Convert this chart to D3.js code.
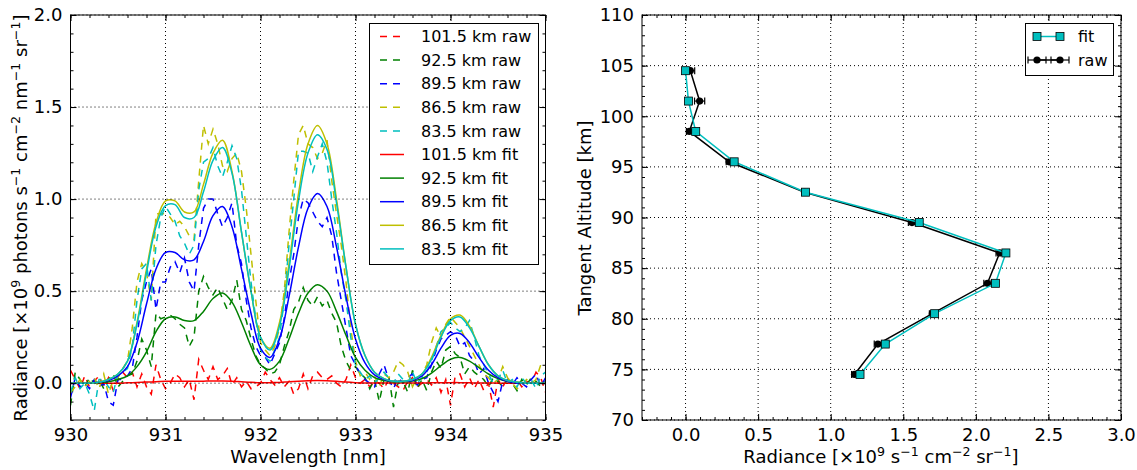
<!DOCTYPE html>
<html><head><meta charset="utf-8">
<script src="https://cdn.jsdelivr.net/npm/d3@7"></script>
<style>body{margin:0;background:#fff} text{font-family:"DejaVu Sans",sans-serif;fill:#000}</style>
</head><body><svg id="c" width="1137" height="470"></svg>
<script>
// ---------------- DATA ----------------
// raw spectra sampled every 0.05 nm from 930.00 to 935.00 (101 samples)
const rawStart = 930, rawStep = 0.05;
const raw101 = [0.07,0.02,-0.03,0.04,-0.02,0.01,0.04,-0.02,0.03,-0.04,
 0.02,0.06,0.03,0.06,-0.02,0.05,-0.02,-0.06,0.10,0.02,
 -0.03,0.00,0.05,0.03,-0.02,0.02,-0.09,0.13,0.07,0.02,
 0.09,0.02,0.04,0.08,-0.01,0.03,-0.02,0.01,-0.03,-0.02,
 0.00,0.06,0.02,-0.01,0.03,-0.02,0.01,-0.06,-0.03,0.05,
 -0.03,0.04,0.06,0.03,0.02,0.04,0.00,-0.02,0.02,0.10,
 0.03,0.00,0.02,-0.02,0.01,0.00,-0.03,0.02,0.00,-0.02,
 -0.04,0.01,0.03,-0.02,0.00,0.02,-0.01,0.03,-0.05,0.02,
 -0.12,0.04,0.05,-0.02,0.03,-0.03,0.02,-0.04,0.00,-0.13,
 0.02,-0.02,0.03,0.00,0.02,-0.02,0.01,0.00,0.06,0.03,
 -0.05];
const raw92 = [-0.12,0.06,0.02,-0.02,0.03,0.00,0.02,-0.03,0.02,0.05,
 -0.02,0.01,0.04,0.05,0.12,0.24,0.18,0.09,0.38,0.35,
 0.36,0.37,0.35,0.32,0.30,0.20,0.25,0.50,0.58,0.52,
 0.48,0.52,0.46,0.40,0.45,0.56,0.40,0.34,0.24,0.15,
 0.10,0.08,0.05,0.06,0.10,0.20,0.28,0.40,0.44,0.52,
 0.45,0.42,0.47,0.42,0.45,0.38,0.33,0.20,0.12,0.07,
 0.09,0.05,0.03,-0.03,0.02,-0.10,0.02,0.04,-0.13,0.01,
 0.01,-0.05,0.07,-0.03,0.02,-0.04,0.06,0.12,0.08,0.18,
 0.20,0.16,0.14,0.05,0.09,0.06,0.04,0.02,-0.02,0.03,
 0.01,-0.02,0.02,0.00,-0.04,0.02,-0.01,0.03,0.01,-0.02,
 0.01];
const raw89 = [-0.08,0.03,-0.02,0.00,-0.03,0.02,-0.02,0.00,-0.10,-0.12,
 0.02,0.02,0.04,0.08,0.25,0.45,0.55,0.62,0.40,0.55,
 0.55,0.63,0.66,0.60,0.68,0.55,0.50,0.75,0.95,1.00,
 1.00,0.92,0.85,0.90,0.98,0.75,0.65,0.45,0.30,0.20,
 0.15,0.14,0.10,0.16,0.22,0.35,0.55,0.70,0.90,1.00,
 0.98,0.93,0.88,0.85,0.90,0.80,0.60,0.45,0.30,0.15,
 0.10,0.05,0.02,0.00,-0.02,0.05,0.10,0.02,-0.03,0.03,
 0.00,0.03,0.05,-0.01,0.02,0.03,0.10,0.18,0.24,0.26,
 0.28,0.26,0.20,0.22,0.15,0.12,0.05,0.08,0.00,-0.05,
 -0.10,0.01,0.02,-0.01,0.03,0.00,-0.02,0.02,0.05,-0.02,
 0.03];
const raw86 = [-0.05,-0.02,0.02,-0.02,0.01,0.03,-0.03,0.05,-0.06,0.02,
 0.03,0.08,0.12,0.30,0.55,0.65,0.60,0.45,0.92,0.92,
 0.92,0.90,0.86,0.88,0.85,0.80,0.78,1.10,1.40,1.30,
 1.38,1.30,1.18,1.15,1.22,1.25,1.15,0.95,0.70,0.45,
 0.22,0.18,0.15,0.20,0.30,0.50,0.82,1.10,1.35,1.40,
 1.30,1.28,1.22,1.25,1.32,1.10,0.92,0.75,0.55,0.30,
 0.12,0.04,0.06,0.02,0.04,-0.02,0.05,0.03,0.06,0.12,
 0.10,0.06,-0.02,0.03,0.05,0.10,0.22,0.30,0.25,0.32,
 0.36,0.33,0.30,0.25,0.20,0.15,0.10,0.05,0.03,0.00,
 0.02,0.09,0.03,0.00,-0.03,-0.01,0.02,0.00,0.02,0.10,
 0.09];
const raw83 = [-0.05,0.03,-0.03,0.00,-0.06,-0.15,0.02,0.02,-0.02,-0.05,
 0.05,0.06,0.08,0.20,0.45,0.62,0.65,0.45,0.75,0.90,
 0.96,0.92,0.88,0.80,0.76,0.70,0.75,1.05,1.20,1.22,
 1.28,1.18,1.12,1.20,1.29,1.22,1.05,0.80,0.55,0.35,
 0.18,0.14,0.12,0.18,0.25,0.45,0.75,1.00,1.26,1.26,
 1.25,1.15,1.23,1.30,1.20,1.00,0.82,0.60,0.45,0.25,
 0.10,0.06,0.02,0.04,0.00,0.03,0.06,0.03,0.00,0.05,
 0.02,0.00,0.06,0.00,0.03,0.06,0.12,0.20,0.28,0.30,
 0.33,0.30,0.28,0.30,0.34,0.25,0.15,0.10,0.05,0.00,
 0.02,0.07,0.00,0.02,-0.02,0.03,0.00,0.02,-0.03,0.04,
 0.06];

// fitted spectra sampled every 0.1 nm from 930.0 to 935.0 (51 samples)
const fitStart = 930, fitStep = 0.1;
const fit101 = [0,0,0,0,0,0,0.002,0.004,0.006,0.008,
 0.010,0.010,0.010,0.010,0.011,0.012,0.012,0.011,0.008,0.005,
 0.003,0.003,0.004,0.008,0.011,0.013,0.014,0.013,0.010,0.006,
 0.003,0.001,0.001,0.001,0.001,0.001,0.001,0.001,0.002,0.002,
 0.003,0.003,0.002,0.001,0.001,0,0,0,0,0,
 0];
const fit92 = [0,0,0,0.003,0.008,0.02,0.04,0.09,0.17,0.28,
 0.35,0.36,0.34,0.34,0.39,0.46,0.49,0.44,0.33,0.20,
 0.10,0.075,0.12,0.24,0.38,0.49,0.535,0.50,0.39,0.26,
 0.14,0.07,0.03,0.015,0.008,0.008,0.012,0.025,0.055,0.095,
 0.13,0.14,0.12,0.085,0.05,0.025,0.01,0.005,0,0,
 0];
const fit89 = [0,0,0,0.005,0.015,0.04,0.09,0.22,0.43,0.62,
 0.71,0.71,0.67,0.67,0.77,0.91,0.96,0.85,0.62,0.38,
 0.19,0.14,0.24,0.47,0.74,0.95,1.03,0.96,0.74,0.47,
 0.24,0.11,0.045,0.02,0.01,0.01,0.015,0.04,0.10,0.19,
 0.26,0.27,0.22,0.14,0.07,0.03,0.01,0,0,0,
 0];
const fit86 = [0,0,0,0.005,0.02,0.05,0.12,0.33,0.62,0.87,
 0.99,0.99,0.93,0.93,1.08,1.25,1.32,1.15,0.82,0.50,
 0.25,0.19,0.33,0.65,1.03,1.30,1.40,1.30,1.00,0.63,
 0.32,0.15,0.06,0.025,0.01,0.01,0.02,0.05,0.14,0.26,
 0.35,0.37,0.31,0.20,0.10,0.04,0.015,0.005,0,0,
 0];
const fit83 = [0,0,0,0.005,0.02,0.05,0.12,0.32,0.60,0.85,
 0.965,0.97,0.90,0.90,1.04,1.21,1.28,1.14,0.82,0.50,
 0.25,0.18,0.31,0.62,0.99,1.25,1.35,1.27,0.98,0.63,
 0.32,0.15,0.06,0.025,0.01,0.01,0.02,0.05,0.13,0.25,
 0.34,0.36,0.30,0.20,0.10,0.04,0.015,0.005,0,0,
 0];

const spectraLabels = ["101.5 km","92.5 km","89.5 km","86.5 km","83.5 km"];
const spectraColors = ["#ff0000","#008000","#0000ff","#bfbf00","#00bfbf"];
const rawSeries = [raw101, raw92, raw89, raw86, raw83];
const fitSeries = [fit101, fit92, fit89, fit86, fit83];

// profile (right panel)
const altitudes   = [104.5,101.5,98.5,95.5,92.5,89.5,86.5,83.5,80.5,77.5,74.5];
const fitProfile  = [0.00,0.02,0.07,0.335,0.826,1.61,2.207,2.135,1.716,1.376,1.202];
const rawProfile  = [0.033,0.097,0.026,0.30,0.82,1.56,2.164,2.08,1.70,1.325,1.164];
const rawErr      = [0.03,0.035,0.02,0.02,0.02,0.025,0.025,0.025,0.02,0.025,0.02];

const leftXTicks = [930,931,932,933,934,935];
const leftYTicks = [0.0,0.5,1.0,1.5,2.0];
const rightXTicks = [0.0,0.5,1.0,1.5,2.0,2.5,3.0];
const rightYTicks = [70,75,80,85,90,95,100,105,110];

// ---------------- DRAW ----------------
const svg = d3.select("#c");
const TICK_FS = 18, LAB_FS = 18, LEG_FS = 16;

function sampleGrid(start, step, n){ return d3.range(n).map(i => start + i*step); }

function drawGrid(x, y, xMaj, yMaj){
  const [xa, xb] = x.range(), [yb, ya] = y.range();
  const g = svg.append("g");
  g.selectAll(null).data(xMaj).join("line")
    .attr("x1", d=>x(d)).attr("x2", d=>x(d)).attr("y1", ya).attr("y2", yb)
    .attr("stroke","#000").attr("stroke-width",1).attr("stroke-dasharray","1,3");
  g.selectAll(null).data(yMaj).join("line")
    .attr("y1", d=>y(d)).attr("y2", d=>y(d)).attr("x1", xa).attr("x2", xb)
    .attr("stroke","#000").attr("stroke-width",1).attr("stroke-dasharray","1,3");
}
function drawFrame(x, y, xMaj, xMin, yMaj, yMin, fmtX, fmtY){
  const [xa, xb] = x.range(), [yb, ya] = y.range();
  const mk = (axisFn, scale, vals, size, fmt, tr, pad) => {
    const a = svg.append("g").attr("transform", tr)
      .call(axisFn(scale).tickValues(vals).tickSize(size).tickPadding(pad).tickFormat(fmt));
    a.select(".domain").remove();
    a.selectAll("line").attr("stroke","#000").attr("stroke-width",1);
    a.selectAll("text").attr("font-size", TICK_FS).attr("font-family","DejaVu Sans").attr("fill","#000");
    if (fmt === null) a.selectAll("text").remove();
    return a;
  };
  mk(d3.axisBottom, x, xMaj, -6, fmtX, `translate(0,${yb})`, 8);
  mk(d3.axisBottom, x, xMin, -3, null, `translate(0,${yb})`, 8);
  mk(d3.axisTop, x, xMaj, -6, null, `translate(0,${ya})`, 3);
  mk(d3.axisTop, x, xMin, -3, null, `translate(0,${ya})`, 3);
  mk(d3.axisLeft, y, yMaj, -6, fmtY, `translate(${xa},0)`, 8);
  mk(d3.axisLeft, y, yMin, -3, null, `translate(${xa},0)`, 8);
  mk(d3.axisRight, y, yMaj, -6, null, `translate(${xb},0)`, 3);
  mk(d3.axisRight, y, yMin, -3, null, `translate(${xb},0)`, 3);
  svg.append("rect").attr("x", xa).attr("y", ya).attr("width", xb-xa).attr("height", yb-ya)
    .attr("fill","none").attr("stroke","#000").attr("stroke-width",1);
}
// label with superscripts: each part is its own text, laid out by measured width
function richLabel(transform, parts, fs){
  const g = svg.append("g").attr("transform", transform);
  const inner = g.append("g");
  let x = 0;
  parts.forEach(([t, sup]) => {
    const el = inner.append("text").attr("x", x).attr("y", sup ? -fs*0.4 : 0)
      .attr("font-size", sup ? fs*0.7 : fs).style("white-space","pre").text(t);
    x += el.node().getComputedTextLength();
  });
  inner.attr("transform", `translate(${-x/2},0)`);
}

// ---- Left panel ----
const xL = d3.scaleLinear().domain([930,935]).range([70.5,545.5]);
const yL = d3.scaleLinear().domain([-0.2,2.0]).range([420,15]);
svg.append("clipPath").attr("id","clipL").append("rect")
  .attr("x",70.5).attr("y",15).attr("width",475).attr("height",405);

const rawX = sampleGrid(rawStart, rawStep, raw101.length);
const fitX = sampleGrid(fitStart, fitStep, fit101.length);
const lineL = d3.line().x(d=>xL(d[0])).y(d=>yL(d[1]));
const lineFit = d3.line().x(d=>xL(d[0])).y(d=>yL(d[1])).curve(d3.curveCatmullRom.alpha(0.5));

const gL = svg.append("g").attr("clip-path","url(#clipL)");
rawSeries.forEach((s,i) => {
  gL.append("path").datum(s.map((v,j)=>[rawX[j], v])).attr("d", lineL)
    .attr("fill","none").attr("stroke", spectraColors[i]).attr("stroke-width",1.5)
    .attr("stroke-dasharray","7,6");
});
fitSeries.forEach((s,i) => {
  gL.append("path").datum(s.map((v,j)=>[fitX[j], v])).attr("d", lineFit)
    .attr("fill","none").attr("stroke", spectraColors[i]).attr("stroke-width",1.5);
});
drawGrid(xL, yL, leftXTicks, leftYTicks);
drawFrame(xL, yL, leftXTicks, d3.range(930,935.001,0.2), leftYTicks, d3.range(-0.2,2.0001,0.1),
  d3.format("d"), d3.format(".1f"));

// left legend
const legL = svg.append("g");
legL.append("rect").attr("x",369.5).attr("y",23.5).attr("width",169).attr("height",241)
  .attr("fill","#fff").attr("stroke","#000").attr("stroke-width",1);
const legEntries = [];
spectraLabels.forEach((l,i)=>legEntries.push({t:l+" raw", c:spectraColors[i], dash:true}));
spectraLabels.forEach((l,i)=>legEntries.push({t:l+" fit", c:spectraColors[i], dash:false}));
legEntries.forEach((e,i)=>{
  const yy = 36.5 + i*23.6;
  legL.append("line").attr("x1",380).attr("x2",404).attr("y1",yy).attr("y2",yy)
    .attr("stroke",e.c).attr("stroke-width",1.5).attr("stroke-dasharray", e.dash ? "7,6" : null);
  legL.append("text").attr("x",421).attr("y",yy).attr("dy","0.36em").attr("font-size",LEG_FS).text(e.t);
});

// left labels
svg.append("text").attr("x",308).attr("y",463).attr("text-anchor","middle").attr("font-size",LAB_FS)
  .text("Wavelength [nm]");
richLabel("translate(27,218) rotate(-90)",
  [["Radiance [\u00d710",0],["9",1],[" photons s",0],["\u22121",1],[" cm",0],["\u22122",1],
   [" nm",0],["\u22121",1],[" sr",0],["\u22121",1],["]",0]], LAB_FS);

// ---- Right panel ----
const xR = d3.scaleLinear().domain([-0.3,3.0]).range([642,1121]);
const yR = d3.scaleLinear().domain([70,110]).range([420,15]);
drawGrid(xR, yR, rightXTicks, rightYTicks);

const gR = svg.append("g");
const rawPts = altitudes.map((a,i)=>({a, v:rawProfile[i], e:rawErr[i]}));
gR.append("path").datum(rawPts).attr("d", d3.line().x(d=>xR(d.v)).y(d=>yR(d.a)))
  .attr("fill","none").attr("stroke","#000").attr("stroke-width",1.5);
rawPts.forEach(d=>{
  const yy = yR(d.a), xa = xR(d.v-d.e), xb = xR(d.v+d.e);
  gR.append("line").attr("x1",xa).attr("x2",xb).attr("y1",yy).attr("y2",yy).attr("stroke","#000").attr("stroke-width",1.2);
  [xa,xb].forEach(xx=>gR.append("line").attr("x1",xx).attr("x2",xx).attr("y1",yy-3.5).attr("y2",yy+3.5).attr("stroke","#000").attr("stroke-width",1.2));
});
gR.selectAll(null).data(rawPts).join("circle").attr("cx",d=>xR(d.v)).attr("cy",d=>yR(d.a)).attr("r",3.6).attr("fill","#000");
const fitPts = altitudes.map((a,i)=>({a, v:fitProfile[i]}));
gR.append("path").datum(fitPts).attr("d", d3.line().x(d=>xR(d.v)).y(d=>yR(d.a)))
  .attr("fill","none").attr("stroke","#00bfbf").attr("stroke-width",1.5);
gR.selectAll(null).data(fitPts).join("rect").attr("x",d=>xR(d.v)-4).attr("y",d=>yR(d.a)-4)
  .attr("width",8).attr("height",8).attr("fill","#00bfbf").attr("stroke","#000").attr("stroke-width",0.8);

drawFrame(xR, yR, rightXTicks, d3.range(-0.3,3.0001,0.1), rightYTicks, d3.range(70,110.001,1),
  d3.format(".1f"), d3.format("d"));

// right legend
const legR = svg.append("g");
legR.append("rect").attr("x",1025.5).attr("y",23.5).attr("width",88).attr("height",52)
  .attr("fill","#fff").attr("stroke","#000").attr("stroke-width",1);
{
  const y1 = 36.5, y2 = 60;
  legR.append("line").attr("x1",1037).attr("x2",1060).attr("y1",y1).attr("y2",y1).attr("stroke","#00bfbf").attr("stroke-width",1.5);
  [1037,1060].forEach(xx=>legR.append("rect").attr("x",xx-4).attr("y",y1-4).attr("width",8).attr("height",8)
    .attr("fill","#00bfbf").attr("stroke","#000").attr("stroke-width",0.8));
  legR.append("text").attr("x",1078).attr("y",y1).attr("dy","0.36em").attr("font-size",LEG_FS).text("fit");
  legR.append("line").attr("x1",1037).attr("x2",1060).attr("y1",y2).attr("y2",y2).attr("stroke","#000").attr("stroke-width",1.5);
  [1037,1060].forEach(xx=>{
    legR.append("line").attr("x1",xx-9).attr("x2",xx+9).attr("y1",y2).attr("y2",y2).attr("stroke","#000").attr("stroke-width",1.2);
    [xx-9,xx+9].forEach(cx=>legR.append("line").attr("x1",cx).attr("x2",cx).attr("y1",y2-3.5).attr("y2",y2+3.5).attr("stroke","#000").attr("stroke-width",1.2));
    legR.append("circle").attr("cx",xx).attr("cy",y2).attr("r",3.6).attr("fill","#000");
  });
  legR.append("text").attr("x",1078).attr("y",y2).attr("dy","0.36em").attr("font-size",LEG_FS).text("raw");
}

// right labels
richLabel("translate(881,463)",
  [["Radiance [\u00d710",0],["9",1],[" s",0],["\u22121",1],[" cm",0],["\u22122",1],[" sr",0],["\u22121",1],["]",0]], LAB_FS);
svg.append("text").attr("text-anchor","middle").attr("font-size",LAB_FS)
  .attr("transform","translate(591,218) rotate(-90)").text("Tangent Altitude [km]");
</script></body></html>
